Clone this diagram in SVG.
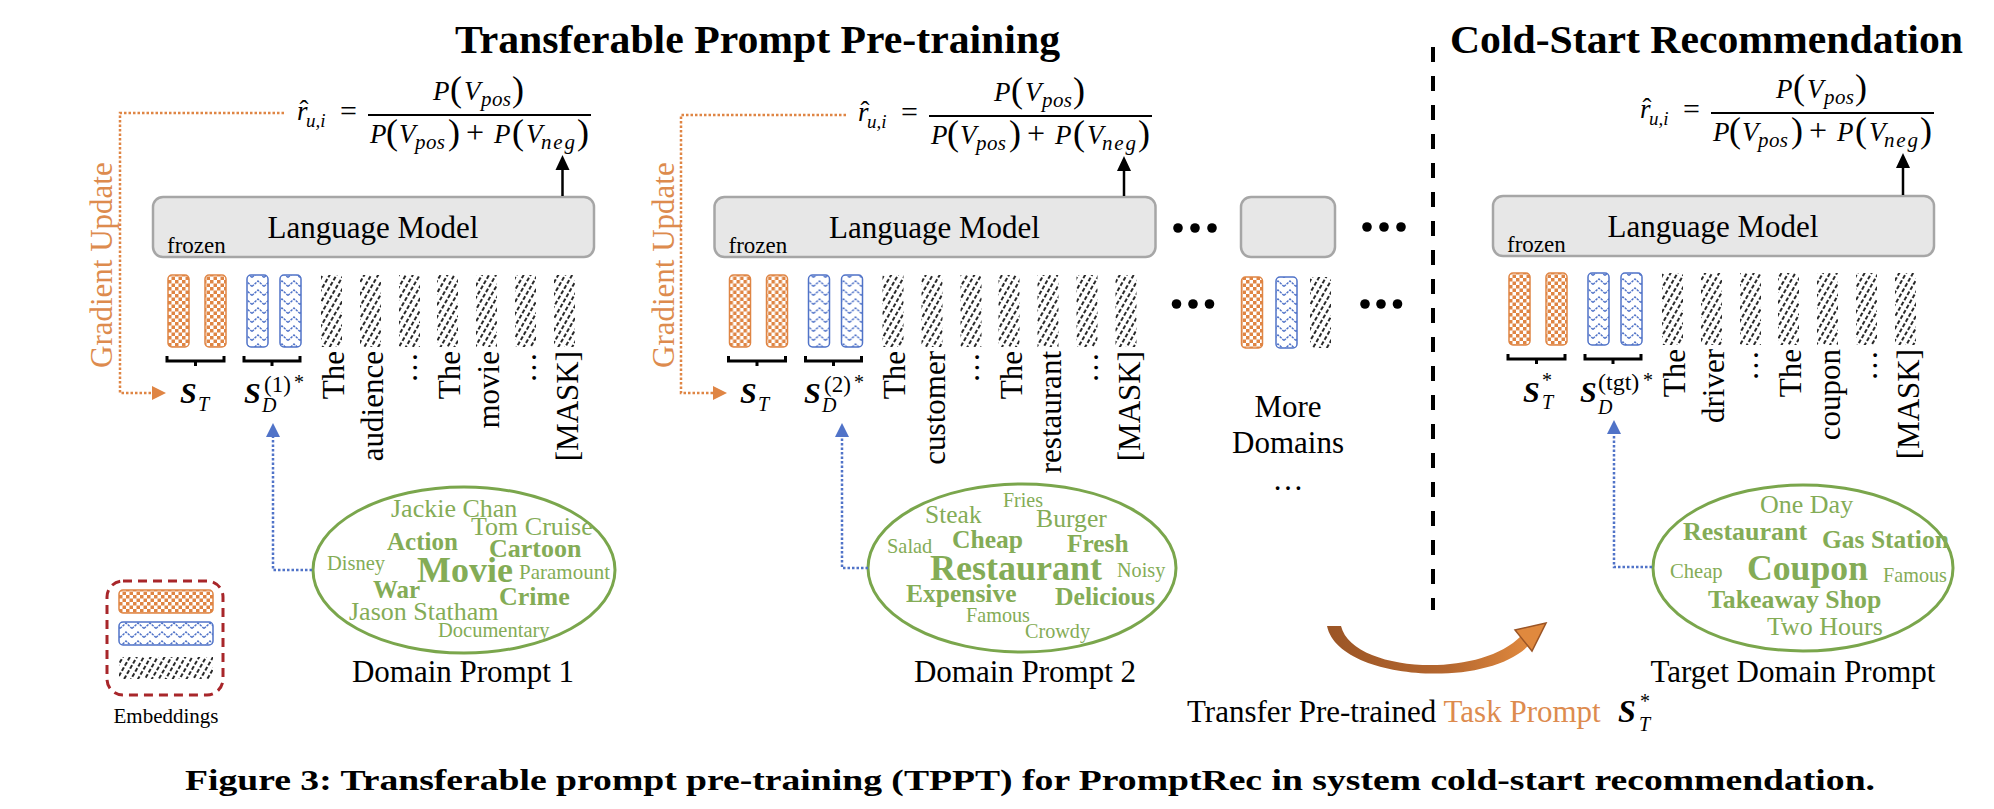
<svg xmlns="http://www.w3.org/2000/svg" width="1994" height="809" viewBox="0 0 1994 809">
<style>
text{font-family:"Liberation Serif","Times New Roman",serif;fill:#000}
.b{font-weight:bold}
.i{font-style:italic}
.bi{font-weight:bold;font-style:italic}
.ttl{font-size:41px;font-weight:bold}
.lm{font-size:31px}
.fz{font-size:23px}
.tok{font-size:31px}
.lab{font-size:31px}
.og{fill:#DD8B4E}
.g{fill:#84AC56}
.box{fill:#E7E7E7;stroke:#A6A6A6;stroke-width:2.5}
.ob{fill:url(#chk);stroke:#DF8544;stroke-width:1.5}
.bb{fill:url(#zig);stroke:#5073C8;stroke-width:1.5}
.kb{fill:url(#hatch)}
.brace{fill:none;stroke:#000;stroke-width:3}
.ell{fill:none;stroke:#7AA64C;stroke-width:3}
.odot{fill:none;stroke:#DF8544;stroke-width:2.5;stroke-dasharray:2.5 2}
.bdot{fill:none;stroke:#5073C8;stroke-width:2.5;stroke-dasharray:2.5 2}
.frac{stroke:#000;stroke-width:2}
.dot{fill:#000}
</style>
<defs>
<pattern id="chk" width="7" height="7" patternUnits="userSpaceOnUse"><rect width="7" height="7" fill="#fff"/><rect width="3.5" height="3.5" fill="#DF8544"/><rect x="3.5" y="3.5" width="3.5" height="3.5" fill="#DF8544"/></pattern>
<pattern id="zig" width="12" height="9" patternUnits="userSpaceOnUse"><rect width="12" height="9" fill="#fff"/><path d="M0,7.5 L6,2 L12,7.5" fill="none" stroke="#5073C8" stroke-width="1.4" stroke-dasharray="2.5 1"/></pattern>
<pattern id="hatch" width="6" height="6" patternUnits="userSpaceOnUse" patternTransform="rotate(30)"><rect width="6" height="6" fill="#fff"/><line x1="3" y1="0" x2="3" y2="6" stroke="#111" stroke-width="1.8" stroke-dasharray="4 2"/></pattern>
<linearGradient id="arcg" x1="0" y1="0" x2="1" y2="0"><stop offset="0" stop-color="#9B5526"/><stop offset="0.6" stop-color="#B5672F"/><stop offset="1" stop-color="#E0893E"/></linearGradient>
</defs>
<rect width="1994" height="809" fill="#fff"/>

<g id="titles">
<text class="ttl" x="455" y="53" textLength="605" lengthAdjust="spacingAndGlyphs">Transferable Prompt Pre-training</text>
<text class="ttl" x="1450" y="53" textLength="513" lengthAdjust="spacingAndGlyphs">Cold-Start Recommendation</text>
</g>

<!-- Panel 1 -->
<g id="panel-1">
<g id="formula-1">
<text x="297" y="120" class="i" font-size="27">r</text>
<text x="299.5" y="119" font-size="27">ˆ</text>
<text x="306" y="127" class="i" font-size="19">u,i</text>
<text x="340" y="121" font-size="30">=</text>
<line x1="368" y1="115" x2="591" y2="115" class="frac"/>
<text x="433" y="100" class="i" font-size="27">P</text>
<text x="450" y="101" font-size="36">(</text>
<text x="464" y="100" class="i" font-size="27">V</text>
<text x="481" y="106" class="i" font-size="21" textLength="30">pos</text>
<text x="512" y="101" font-size="36">)</text>
<text x="370" y="143" class="i" font-size="27">P</text>
<text x="386" y="144" font-size="36">(</text>
<text x="399" y="143" class="i" font-size="27">V</text>
<text x="415" y="149" class="i" font-size="21" textLength="30">pos</text>
<text x="448" y="144" font-size="36">)</text>
<text x="466" y="143" font-size="32">+</text>
<text x="494" y="143" class="i" font-size="27">P</text>
<text x="512" y="144" font-size="36">(</text>
<text x="526" y="143" class="i" font-size="27">V</text>
<text x="541" y="149" class="i" font-size="21" textLength="34">neg</text>
<text x="577" y="144" font-size="36">)</text>
</g>
<g id="lm-1">
<rect class="box" x="153" y="197" width="441" height="60" rx="10"/>
<text class="lm" x="373" y="238" text-anchor="middle">Language Model</text>
<text class="fz" x="167" y="253">frozen</text>
</g>
<g id="emb-1">
<rect class="ob" x="168" y="275" width="21" height="72" rx="4"/>
<rect class="ob" x="205" y="275" width="21" height="72" rx="4"/>
<rect class="bb" x="247" y="275" width="21" height="72" rx="4"/>
<rect class="bb" x="280" y="275" width="21" height="72" rx="4"/>
<rect class="kb" x="321" y="275" width="21" height="72"/>
<rect class="kb" x="360" y="275" width="21" height="72"/>
<rect class="kb" x="399" y="275" width="21" height="72"/>
<rect class="kb" x="437" y="275" width="21" height="72"/>
<rect class="kb" x="476" y="275" width="21" height="72"/>
<rect class="kb" x="515" y="275" width="21" height="72"/>
<rect class="kb" x="554" y="275" width="21" height="72"/>
<path class="brace" d="M167,356V361H224V356M195.5,361V366M244,356V361H300V356M272,361V366"/>
</g>
<g id="tokens-1" class="tok">
<text class="tok" transform="translate(343.5,351) rotate(-90)" text-anchor="end">The</text>
<text class="tok" transform="translate(383,351) rotate(-90)" text-anchor="end">audience</text>
<text class="tok" transform="translate(417,352) rotate(-90)" text-anchor="end">…</text>
<text class="tok" transform="translate(460,351) rotate(-90)" text-anchor="end">The</text>
<text class="tok" transform="translate(499,351) rotate(-90)" text-anchor="end">movie</text>
<text class="tok" transform="translate(536,352) rotate(-90)" text-anchor="end">…</text>
<text class="tok" transform="translate(578,351) rotate(-90)" text-anchor="end">[MASK]</text>
</g>
<g id="labels-1">
<text x="180" y="403" class="bi" font-size="30">S</text>
<text x="198" y="411" class="i" font-size="20">T</text>
<text x="244" y="403" class="bi" font-size="30">S</text>
<text x="262" y="412" class="i" font-size="20">D</text>
<text x="264" y="392" font-size="23">(1)</text>
<text x="294" y="389" font-size="20">*</text>
</g>
<g id="cloud-1">
<ellipse class="ell" cx="464" cy="570" rx="151" ry="83"/>
<text class="g" x="391" y="517" font-size="26">Jackie Chan</text>
<text class="g" x="471" y="535" font-size="26">Tom Cruise</text>
<text class="g b" x="387" y="550" font-size="25">Action</text>
<text class="g b" x="489" y="557" font-size="26">Cartoon</text>
<text class="g" x="327" y="570" font-size="20.5">Disney</text>
<text class="g b" x="417" y="582" font-size="36">Movie</text>
<text class="g" x="519" y="579" font-size="21">Paramount</text>
<text class="g b" x="373" y="598" font-size="25">War</text>
<text class="g b" x="499" y="605" font-size="26">Crime</text>
<text class="g" x="349" y="620" font-size="26">Jason Statham</text>
<text class="g" x="438" y="637" font-size="20.5">Documentary</text>
<text class="lab" x="463" y="682" text-anchor="middle">Domain Prompt 1</text>
</g>
</g>

<!-- Panel 2 -->
<g id="panel-2">
<g id="formula-2" transform="translate(561,1)">
<text x="297" y="120" class="i" font-size="27">r</text>
<text x="299.5" y="119" font-size="27">ˆ</text>
<text x="306" y="127" class="i" font-size="19">u,i</text>
<text x="340" y="121" font-size="30">=</text>
<line x1="368" y1="115" x2="591" y2="115" class="frac"/>
<text x="433" y="100" class="i" font-size="27">P</text>
<text x="450" y="101" font-size="36">(</text>
<text x="464" y="100" class="i" font-size="27">V</text>
<text x="481" y="106" class="i" font-size="21" textLength="30">pos</text>
<text x="512" y="101" font-size="36">)</text>
<text x="370" y="143" class="i" font-size="27">P</text>
<text x="386" y="144" font-size="36">(</text>
<text x="399" y="143" class="i" font-size="27">V</text>
<text x="415" y="149" class="i" font-size="21" textLength="30">pos</text>
<text x="448" y="144" font-size="36">)</text>
<text x="466" y="143" font-size="32">+</text>
<text x="494" y="143" class="i" font-size="27">P</text>
<text x="512" y="144" font-size="36">(</text>
<text x="526" y="143" class="i" font-size="27">V</text>
<text x="541" y="149" class="i" font-size="21" textLength="34">neg</text>
<text x="577" y="144" font-size="36">)</text>
</g>
<g id="lm-2" transform="translate(561.5,0)">
<rect class="box" x="153" y="197" width="441" height="60" rx="10"/>
<text class="lm" x="373" y="238" text-anchor="middle">Language Model</text>
<text class="fz" x="167" y="253">frozen</text>
</g>
<g id="emb-2" transform="translate(561.5,0)">
<rect class="ob" x="168" y="275" width="21" height="72" rx="4"/>
<rect class="ob" x="205" y="275" width="21" height="72" rx="4"/>
<rect class="bb" x="247" y="275" width="21" height="72" rx="4"/>
<rect class="bb" x="280" y="275" width="21" height="72" rx="4"/>
<rect class="kb" x="321" y="275" width="21" height="72"/>
<rect class="kb" x="360" y="275" width="21" height="72"/>
<rect class="kb" x="399" y="275" width="21" height="72"/>
<rect class="kb" x="437" y="275" width="21" height="72"/>
<rect class="kb" x="476" y="275" width="21" height="72"/>
<rect class="kb" x="515" y="275" width="21" height="72"/>
<rect class="kb" x="554" y="275" width="21" height="72"/>
<path class="brace" d="M167,356V361H224V356M195.5,361V366M244,356V361H300V356M272,361V366"/>
</g>
<g id="tokens-2" transform="translate(561.5,0)">
<text class="tok" transform="translate(343.5,351) rotate(-90)" text-anchor="end">The</text>
<text class="tok" transform="translate(383,351) rotate(-90)" text-anchor="end">customer</text>
<text class="tok" transform="translate(417,352) rotate(-90)" text-anchor="end">…</text>
<text class="tok" transform="translate(460,351) rotate(-90)" text-anchor="end">The</text>
<text class="tok" transform="translate(499,351) rotate(-90)" text-anchor="end">restaurant</text>
<text class="tok" transform="translate(536,352) rotate(-90)" text-anchor="end">…</text>
<text class="tok" transform="translate(578,351) rotate(-90)" text-anchor="end">[MASK]</text>
</g>
<g id="labels-2" transform="translate(560,0)">
<text x="180" y="403" class="bi" font-size="30">S</text>
<text x="198" y="411" class="i" font-size="20">T</text>
<text x="244" y="403" class="bi" font-size="30">S</text>
<text x="262" y="412" class="i" font-size="20">D</text>
<text x="264" y="392" font-size="23">(2)</text>
<text x="294" y="389" font-size="20">*</text>
</g>
<g id="cloud-2">
<ellipse class="ell" cx="1022" cy="568" rx="154" ry="84"/>
<text class="g" x="1003" y="507" font-size="20">Fries</text>
<text class="g" x="925" y="523" font-size="25.5">Steak</text>
<text class="g" x="1036" y="527" font-size="25.7">Burger</text>
<text class="g" x="887" y="553" font-size="20.4">Salad</text>
<text class="g b" x="952" y="548" font-size="25.6">Cheap</text>
<text class="g b" x="1067" y="552" font-size="25.4">Fresh</text>
<text class="g b" x="930" y="580" font-size="36">Restaurant</text>
<text class="g" x="1117" y="577" font-size="20.2">Noisy</text>
<text class="g b" x="906" y="602" font-size="25.5">Expensive</text>
<text class="g b" x="1055" y="605" font-size="25.7">Delicious</text>
<text class="g" x="966" y="622" font-size="20.2">Famous</text>
<text class="g" x="1025" y="638" font-size="20.2">Crowdy</text>
<text class="lab" x="1025" y="682" text-anchor="middle">Domain Prompt 2</text>
</g>
</g>

<!-- More domains -->
<g id="more-domains">
<rect class="box" x="1241" y="197" width="94" height="60" rx="10"/>
<circle class="dot" cx="1178" cy="228" r="4.8"/><circle class="dot" cx="1195" cy="228" r="4.8"/><circle class="dot" cx="1212" cy="228" r="4.8"/>
<circle class="dot" cx="1367" cy="227" r="4.8"/><circle class="dot" cx="1384" cy="227" r="4.8"/><circle class="dot" cx="1401" cy="227" r="4.8"/>
<rect class="ob" x="1241.5" y="277" width="21" height="71" rx="4"/>
<rect class="bb" x="1276" y="277" width="21" height="71" rx="4"/>
<rect class="kb" x="1310" y="277" width="21" height="71"/>
<circle class="dot" cx="1176.5" cy="304" r="4.8"/><circle class="dot" cx="1193" cy="304" r="4.8"/><circle class="dot" cx="1209.5" cy="304" r="4.8"/>
<circle class="dot" cx="1365" cy="304" r="4.8"/><circle class="dot" cx="1381" cy="304" r="4.8"/><circle class="dot" cx="1397.5" cy="304" r="4.8"/>
<text class="lab" x="1288" y="417" text-anchor="middle">More</text>
<text class="lab" x="1288" y="453" text-anchor="middle">Domains</text>
<text class="lab" x="1288" y="490" text-anchor="middle">…</text>
</g>

<g id="divider">
<line x1="1433" y1="47" x2="1433" y2="610" stroke="#000" stroke-width="4" stroke-dasharray="15 14"/>
</g>

<!-- Panel 3 -->
<g id="panel-3">
<g id="formula-3" transform="translate(1343,-2)">
<text x="297" y="120" class="i" font-size="27">r</text>
<text x="299.5" y="119" font-size="27">ˆ</text>
<text x="306" y="127" class="i" font-size="19">u,i</text>
<text x="340" y="121" font-size="30">=</text>
<line x1="368" y1="115" x2="591" y2="115" class="frac"/>
<text x="433" y="100" class="i" font-size="27">P</text>
<text x="450" y="101" font-size="36">(</text>
<text x="464" y="100" class="i" font-size="27">V</text>
<text x="481" y="106" class="i" font-size="21" textLength="30">pos</text>
<text x="512" y="101" font-size="36">)</text>
<text x="370" y="143" class="i" font-size="27">P</text>
<text x="386" y="144" font-size="36">(</text>
<text x="399" y="143" class="i" font-size="27">V</text>
<text x="415" y="149" class="i" font-size="21" textLength="30">pos</text>
<text x="448" y="144" font-size="36">)</text>
<text x="466" y="143" font-size="32">+</text>
<text x="494" y="143" class="i" font-size="27">P</text>
<text x="512" y="144" font-size="36">(</text>
<text x="526" y="143" class="i" font-size="27">V</text>
<text x="541" y="149" class="i" font-size="21" textLength="34">neg</text>
<text x="577" y="144" font-size="36">)</text>
</g>
<g id="lm-3" transform="translate(1340,-1)">
<rect class="box" x="153" y="197" width="441" height="60" rx="10"/>
<text class="lm" x="373" y="238" text-anchor="middle">Language Model</text>
<text class="fz" x="167" y="253">frozen</text>
</g>
<g id="emb-3" transform="translate(1341,-2)">
<rect class="ob" x="168" y="275" width="21" height="72" rx="4"/>
<rect class="ob" x="205" y="275" width="21" height="72" rx="4"/>
<rect class="bb" x="247" y="275" width="21" height="72" rx="4"/>
<rect class="bb" x="280" y="275" width="21" height="72" rx="4"/>
<rect class="kb" x="321" y="275" width="21" height="72"/>
<rect class="kb" x="360" y="275" width="21" height="72"/>
<rect class="kb" x="399" y="275" width="21" height="72"/>
<rect class="kb" x="437" y="275" width="21" height="72"/>
<rect class="kb" x="476" y="275" width="21" height="72"/>
<rect class="kb" x="515" y="275" width="21" height="72"/>
<rect class="kb" x="554" y="275" width="21" height="72"/>
<path class="brace" d="M167,356V361H224V356M195.5,361V366M244,356V361H300V356M272,361V366"/>
</g>
<g id="tokens-3" transform="translate(1341,-2)">
<text class="tok" transform="translate(343.5,351) rotate(-90)" text-anchor="end">The</text>
<text class="tok" transform="translate(383,351) rotate(-90)" text-anchor="end">driver</text>
<text class="tok" transform="translate(417,352) rotate(-90)" text-anchor="end">…</text>
<text class="tok" transform="translate(460,351) rotate(-90)" text-anchor="end">The</text>
<text class="tok" transform="translate(499,351) rotate(-90)" text-anchor="end">coupon</text>
<text class="tok" transform="translate(536,352) rotate(-90)" text-anchor="end">…</text>
<text class="tok" transform="translate(578,351) rotate(-90)" text-anchor="end">[MASK]</text>
</g>
<g id="labels-3">
<text x="1523" y="402" class="bi" font-size="30">S</text>
<text x="1542" y="387" font-size="20">*</text>
<text x="1542" y="409" class="i" font-size="20">T</text>
<text x="1580" y="402" class="bi" font-size="30">S</text>
<text x="1598" y="414" class="i" font-size="20">D</text>
<text x="1598" y="390" font-size="24">(tgt)</text>
<text x="1643" y="387" font-size="20">*</text>
</g>
<g id="cloud-3">
<ellipse class="ell" cx="1803" cy="568" rx="150" ry="83"/>
<text class="g" x="1760" y="513" font-size="26">One Day</text>
<text class="g b" x="1683" y="540" font-size="26">Restaurant</text>
<text class="g b" x="1822" y="548" font-size="25.5">Gas Station</text>
<text class="g" x="1670" y="578" font-size="20.6">Cheap</text>
<text class="g b" x="1747" y="580" font-size="35.7">Coupon</text>
<text class="g" x="1883" y="582" font-size="20.2">Famous</text>
<text class="g b" x="1708" y="608" font-size="25.8">Takeaway Shop</text>
<text class="g" x="1767" y="635" font-size="26">Two Hours</text>
<text class="lab" x="1793" y="682" text-anchor="middle">Target Domain Prompt</text>
</g>
</g>

<!-- Legend -->
<g id="legend">
<rect x="107" y="581" width="116" height="114" rx="16" fill="none" stroke="#A8262A" stroke-width="3" stroke-dasharray="9 6"/>
<rect class="ob" x="119" y="590" width="94" height="23" rx="4"/>
<rect class="bb" x="119" y="622" width="94" height="23" rx="4"/>
<rect class="kb" x="119" y="657" width="94" height="22"/>
<text x="166" y="723" font-size="21" text-anchor="middle">Embeddings</text>
</g>

<!-- Transfer -->
<g id="transfer">
<text x="1187" y="722" font-size="31">Transfer Pre-trained <tspan class="og">Task Prompt</tspan></text>
<text x="1618" y="722" class="bi" font-size="32">S</text>
<text x="1640" y="708" font-size="20">*</text>
<text x="1639" y="731" class="i" font-size="20">T</text>
</g>

<g id="gradient-labels">
<text class="og" font-size="31" transform="translate(112,368) rotate(-90)">Gradient Update</text>
<text class="og" font-size="31" transform="translate(673.5,368) rotate(-90)">Gradient Update</text>
</g>

<g id="connectors">
<line x1="562.5" y1="196" x2="562.5" y2="168" stroke="#000" stroke-width="2.5"/>
<polygon points="562.5,155 555.5,170 569.5,170" fill="#000"/>
<line x1="1124" y1="196" x2="1124" y2="169" stroke="#000" stroke-width="2.5"/>
<polygon points="1124,156 1117,171 1131,171" fill="#000"/>
<line x1="1903" y1="195" x2="1903" y2="166" stroke="#000" stroke-width="2.5"/>
<polygon points="1903,153 1896,168 1910,168" fill="#000"/>

<path class="odot" d="M284,113H120V393H152"/>
<polygon points="152,386 166,393 152,400" fill="#DF8544"/>
<path class="odot" d="M846,115H681V393H713"/>
<polygon points="713,386 727,393 713,400" fill="#DF8544"/>

<path class="bdot" d="M312,570H273V437"/>
<polygon points="273,423 266,437 280,437" fill="#5073C8"/>
<path class="bdot" d="M868,568H842V437"/>
<polygon points="842,423 835,437 849,437" fill="#5073C8"/>
<path class="bdot" d="M1652,567H1614V434"/>
<polygon points="1614,420 1607,434 1621,434" fill="#5073C8"/>

<path d="M1327,626 C1338,680 1484,690 1528,646 L1521,636 C1478,680 1352,672 1341,626 Z" fill="url(#arcg)"/>
<polygon points="1546,623 1515,630 1532,651" fill="#E0893E" stroke="#9B5526" stroke-width="1.5"/>
</g>

<g id="caption">
<text x="185" y="790" class="b" font-size="30" textLength="1690" lengthAdjust="spacingAndGlyphs">Figure 3: Transferable prompt pre-training (TPPT) for PromptRec in system cold-start recommendation.</text>
</g>
</svg>
